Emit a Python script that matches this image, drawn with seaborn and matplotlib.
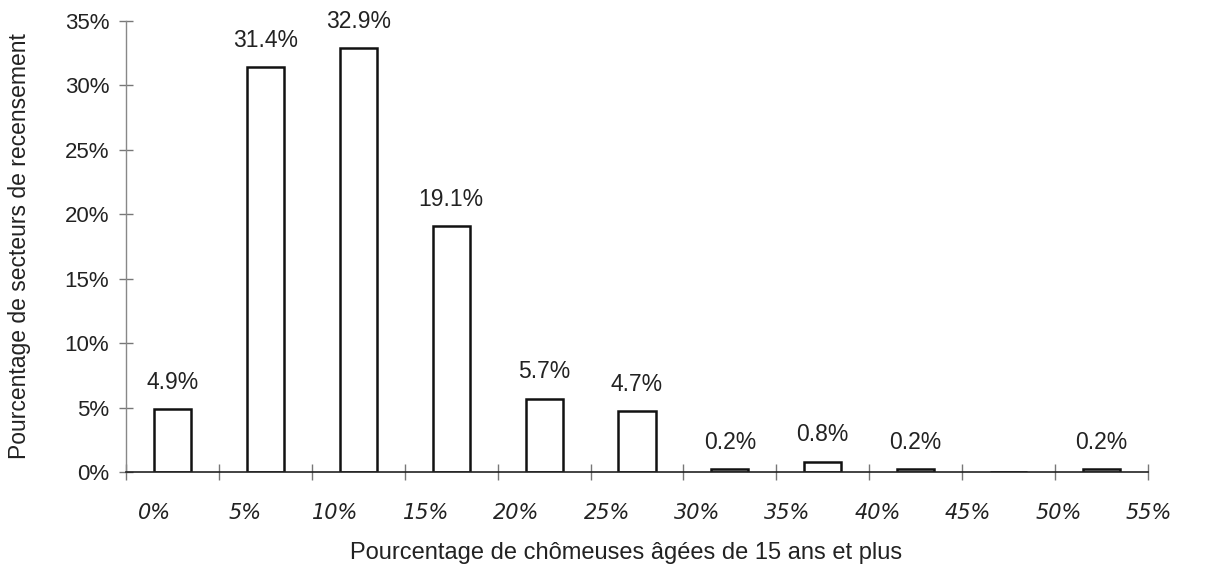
import numpy as np
import pandas as pd
import matplotlib
matplotlib.use("Agg")
import matplotlib.pyplot as plt
import seaborn as sns

# Share of census tracts by percentage of unemployed women aged 15+
bins = ["0-5", "5-10", "10-15", "15-20", "20-25", "25-30",
        "30-35", "35-40", "40-45", "45-50", "50-55"]
values = [4.9, 31.4, 32.9, 19.1, 5.7, 4.7, 0.2, 0.8, 0.2, 0.0, 0.2]
value_labels = ["4.9%", "31.4%", "32.9%", "19.1%", "5.7%", "4.7%",
                "0.2%", "0.8%", "0.2%", "", "0.2%"]
boundary_labels = ["0%", "5%", "10%", "15%", "20%", "25%",
                   "30%", "35%", "40%", "45%", "50%", "55%"]
y_ticks = [0, 5, 10, 15, 20, 25, 30, 35]

sns.set_theme(style="white")
plt.rcParams["font.family"] = ["Liberation Sans", "DejaVu Sans"]

df = pd.DataFrame({"bin": bins, "pct": values})

fig = plt.figure(figsize=(12.14, 5.68), dpi=100)
ax = fig.add_axes([0.1038, 0.169, 0.8418, 0.794])

sns.barplot(data=df, x="bin", y="pct", ax=ax, width=0.4,
            color="white", edgecolor="#111111", linewidth=1.8,
            saturation=1)

ax.set_xlim(-0.5, len(bins) - 0.5)
ax.set_ylim(0, 35)

# value labels above the bars
for i, (v, lab) in enumerate(zip(values, value_labels)):
    if lab:
        ax.annotate(lab, (i, v), xytext=(0, 11), textcoords="offset points",
                    ha="center", va="bottom", fontsize=16.5, color="#222222")

# axes styling
for s in ["top", "right"]:
    ax.spines[s].set_visible(False)
ax.spines["left"].set_color("#888888")
ax.spines["left"].set_linewidth(1.0)
ax.spines["bottom"].set_color("#222222")
ax.spines["bottom"].set_linewidth(1.2)

ax.set_yticks(y_ticks)
ax.set_yticklabels([f"{t}%" for t in y_ticks], fontsize=16, color="#222222")
ax.tick_params(axis="y", direction="inout", length=10, width=1,
               color="#777777", pad=7, left=True)

# tick marks at bin boundaries, handwritten-style labels beneath
bounds = np.arange(len(bins) + 1) - 0.5
ax.set_xticks(bounds)
ax.set_xticklabels([])
ax.tick_params(axis="x", direction="inout", length=12, width=1,
               color="#777777", bottom=True)

label_pos = np.linspace(-0.19, 10.51, len(boundary_labels))
for x, lab in zip(label_pos, boundary_labels):
    ax.text(x, -0.09, lab, transform=ax.get_xaxis_transform(),
            ha="center", va="center", fontsize=15, fontstyle="italic",
            family=["DejaVu Sans"], fontweight="light", color="#222222")

ax.set_xlabel("Pourcentage de chômeuses âgées de 15 ans et plus",
              fontsize=17, color="#222222")
ax.xaxis.set_label_coords(0.489, -0.155)
ax.set_ylabel("Pourcentage de secteurs de recensement",
              fontsize=16.5, color="#222222", labelpad=24)

fig.savefig("out.png", dpi=100, facecolor="white")
